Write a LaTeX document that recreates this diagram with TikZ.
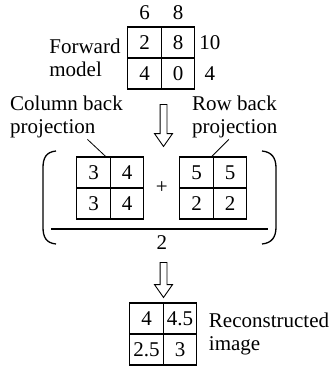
\documentclass[tikz,border=0pt]{standalone}
\usepackage{fontspec}
\setmainfont{Liberation Serif}
\newfontfamily\timesfont{Liberation Serif}
\usetikzlibrary{positioning,calc,shapes.arrows}

\begin{document}
\begin{tikzpicture}[x=1pt, y=-1pt,
  every node/.style = {font=\timesfont\fontsize{21}{23}\selectfont, inner sep=1pt},
  cell/.style   = {rectangle, draw, line width=1.2pt, outer sep=0pt,
                   minimum width=33.5pt, minimum height=31pt},
  lbl/.style    = {align=left},
  hollow/.style = {single arrow, draw, line width=0.9pt, rotate=-90,
                   inner sep=3pt, single arrow head extend=5.5pt,
                   single arrow tip angle=70},
  lead/.style   = {line width=0.8pt},
  paren/.style  = {line width=1.3pt}
]
\useasboundingbox (0,0) rectangle (331,366);

% , - Forward model , -
\node[cell] (f11) at (144.5,42.5) {2};
\node[cell, right=0pt of f11] (f12) {8};
\node[cell, below=0pt of f11] (f21) {4};
\node[cell, right=0pt of f21] (f22) {0};

\node[above=6pt of f11] (cs1) {6};
\node[above=6pt of f12] (cs2) {8};
\node[right=3.5pt of f12] (rs1) {10};
\node (rs2) at (rs1 |- f22) {4};
\node[lbl, left=6pt of f11.south west] (fwd) {Forward\\model};

\node[hollow, minimum height=42pt] (down1) at (163.5,123) {};

% , - Back projections , -
\node[lbl, anchor=north west] (colbp) at (9,95)  {Column back\\projection};
\node[lbl, anchor=north west] (rowbp) at (191,95) {Row back\\projection};

\node[cell] (c11) at (93.5,172.5) {3};
\node[cell, right=0pt of c11] (c12) {4};
\node[cell, below=0pt of c11] (c21) {3};
\node[cell, right=0pt of c21] (c22) {4};

\node[cell] (r11) at (196.5,172.5) {5};
\node[cell, right=0pt of r11] (r12) {5};
\node[cell, below=0pt of r11] (r21) {2};
\node[cell, right=0pt of r21] (r22) {2};

\node (plus) at ($(c12.south east)!0.5!(r21.north west)$) {+};

\draw[lead] ([xshift=21pt]colbp.south) -- ([xshift=-4pt]c11.north east);
\draw[lead] ([xshift=-6pt]rowbp.south) -- ([xshift=-2pt]r11.north east);

% , - Bracket and fraction , -
\draw[paren] (56,151) .. controls (46,152) and (43,158) .. (43,168)
  -- (43,227) .. controls (43,237) and (46,243) .. (56,244);
\draw[paren] (262,151) .. controls (272,152) and (276,158) .. (276,168)
  -- (276,227) .. controls (276,237) and (272,243) .. (262,244);

\coordinate (fl) at (51,229);
\coordinate (fr) at (268,229);
\draw[paren] (fl) -- (fr);
\coordinate (fm) at (fl -| plus);
\node[below=5pt of fm] (den) {2};

\node[hollow, minimum height=35pt] (down2) at (163.5,277.5) {};

% , - Reconstructed image , -
\node[cell] (b11) at (146.5,318.5) {4};
\node[cell, right=0pt of b11] (b12) {4.5};
\node[cell, below=0pt of b11] (b21) {2.5};
\node[cell, right=0pt of b21] (b22) {3};

\node[lbl, right=11pt of b12.south east] (recon) {Reconstructed\\image};

\end{tikzpicture}
\end{document}
